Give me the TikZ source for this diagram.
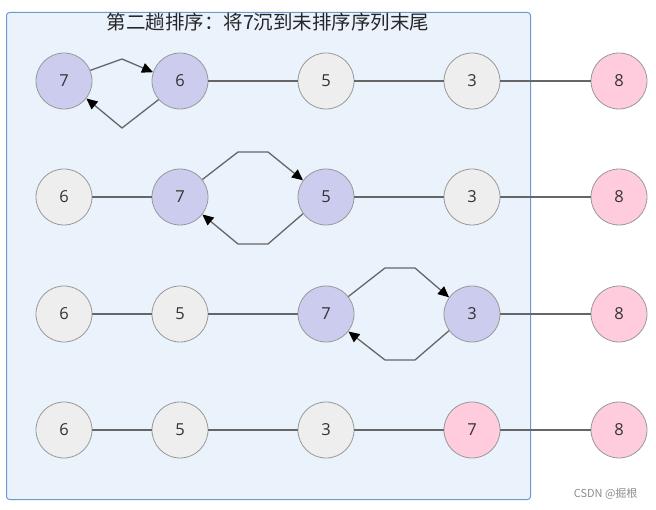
\documentclass[tikz,border=0pt]{standalone}
\usepackage{fontspec}
\setmainfont{Open Sans}
\newfontfamily\cjk{Noto Sans CJK SC}
\usetikzlibrary{arrows.meta}
\definecolor{boxfill}{HTML}{EAF2FC}
\definecolor{boxdraw}{HTML}{6C9BD2}
\definecolor{purp}{HTML}{CCCCEE}
\definecolor{grey}{HTML}{EEEEEE}
\definecolor{pinkc}{HTML}{FFCCDD}
\definecolor{edge}{HTML}{666666}
\definecolor{ring}{HTML}{999999}
\tikzset{
  ball/.style={circle, draw=ring, line width=0.8pt, minimum size=56pt, inner sep=0pt, font=\fontsize{16.5}{18}\selectfont, text=black!80},
  pb/.style={ball, fill=purp},
  gb/.style={ball, fill=grey},
  kb/.style={ball, fill=pinkc},
  link/.style={draw=edge, line width=1.3pt},
  swap/.style={draw=edge, line width=1.3pt, -{Triangle[length=11pt,width=10pt,color=black]}},
}
\begin{document}
\begin{tikzpicture}[x=1pt,y=-1pt]
\useasboundingbox (0,0) rectangle (656,510);
\node[draw=boxdraw, fill=boxfill, line width=1pt, rounded corners=3pt, minimum width=524pt, minimum height=487pt, inner sep=0pt, anchor=north west] (frame) at (6,12) {};
\node[font=\cjk\fontsize{19.5}{21}\selectfont, text=black!85] (title) at (268,22) {第二趟排序：将7沉到未排序序列末尾};
% row 1
\node[pb] (a1) at (64,81) {7};
\node[pb] (a2) at (180,81) {6};
\node[gb] (a3) at (326,81) {5};
\node[gb] (a4) at (472,81) {3};
\node[kb] (a5) at (619,81) {8};
% row 2
\node[gb] (b1) at (64,197) {6};
\node[pb] (b2) at (180,197) {7};
\node[pb] (b3) at (326,197) {5};
\node[gb] (b4) at (472,197) {3};
\node[kb] (b5) at (619,197) {8};
% row 3
\node[gb] (c1) at (64,314) {6};
\node[gb] (c2) at (180,314) {5};
\node[pb] (c3) at (326,314) {7};
\node[pb] (c4) at (472,314) {3};
\node[kb] (c5) at (619,314) {8};
% row 4
\node[gb] (d1) at (64,430) {6};
\node[gb] (d2) at (180,430) {5};
\node[gb] (d3) at (326,430) {3};
\node[kb] (d4) at (472,430) {7};
\node[kb] (d5) at (619,430) {8};
% links
\path[link] (a2) -- (a3) (a3) -- (a4) (a4) -- (a5);
\path[link] (b1) -- (b2) (b3) -- (b4) (b4) -- (b5);
\path[link] (c1) -- (c2) (c2) -- (c3) (c4) -- (c5);
\path[link] (d1) -- (d2) (d2) -- (d3) (d3) -- (d4) (d4) -- (d5);
% swap arrows
\coordinate (p1) at (122,59);
\coordinate (q1) at (122,128);
\path[swap] (a1.22) -- (p1) -- (a2.162);
\path[swap] (a2.221) -- (q1) -- (a1.322);
\coordinate (p2a) at (238,152); \coordinate (p2b) at (268,152);
\coordinate (q2a) at (268,244); \coordinate (q2b) at (238,244);
\path[swap] (b2.38) -- (p2a) -- (p2b) -- (b3.144);
\path[swap] (b3.216) -- (q2a) -- (q2b) -- (b2.322);
\coordinate (p3a) at (385,268); \coordinate (p3b) at (415,268);
\coordinate (q3a) at (415,360); \coordinate (q3b) at (385,360);
\path[swap] (c3.38) -- (p3a) -- (p3b) -- (c4.144);
\path[swap] (c4.216) -- (q3a) -- (q3b) -- (c3.322);
\node[font=\cjk\fontsize{11}{12}\selectfont, text=black!45, anchor=east] (mark) at (641,494) {CSDN @掘根};
\end{tikzpicture}
\end{document}
